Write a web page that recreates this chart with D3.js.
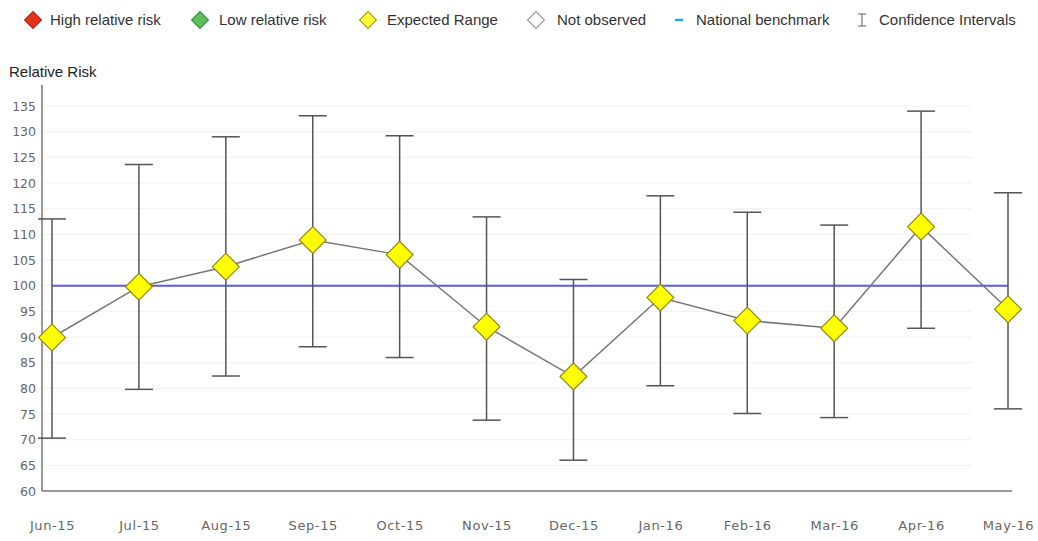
<!DOCTYPE html>
<html>
<head>
<meta charset="utf-8">
<script src="https://cdn.jsdelivr.net/npm/d3@7"></script>
<style>
  body { margin: 0; background: #fff; }
  svg { display: block; }
</style>
</head>
<body>
<svg width="1038" height="541"></svg>
<script>
// Data
const months = ['Jun-15', 'Jul-15', 'Aug-15', 'Sep-15', 'Oct-15', 'Nov-15',
  'Dec-15', 'Jan-16', 'Feb-16', 'Mar-16', 'Apr-16', 'May-16'];
const relRisk = [89.9, 99.8, 103.7, 108.9, 106.0, 92.0, 82.3, 97.7, 93.2, 91.7, 111.5, 95.4];
const ciUpper = [113.0, 123.6, 129.0, 133.1, 129.2, 113.4, 101.2, 117.5, 114.3, 111.8, 134.0, 118.1];
const ciLower = [70.3, 79.8, 82.4, 88.1, 86.0, 73.8, 66.0, 80.5, 75.1, 74.3, 91.7, 76.0];
const benchmark = 100;
const yTicks = [60, 65, 70, 75, 80, 85, 90, 95, 100, 105, 110, 115, 120, 125, 130, 135];

const legendItems = [
  { label: 'High relative risk', type: 'diamond', fill: '#e8321e', stroke: '#b02010', x: 33, tx: 50 },
  { label: 'Low relative risk', type: 'diamond', fill: '#5cbf5c', stroke: '#3c8f3c', x: 200, tx: 219 },
  { label: 'Expected Range', type: 'diamond', fill: '#ffff33', stroke: '#a8a020', x: 368, tx: 387 },
  { label: 'Not observed', type: 'diamond', fill: '#ffffff', stroke: '#999999', x: 536, tx: 557 },
  { label: 'National benchmark', type: 'dash', x: 679, tx: 696 },
  { label: 'Confidence Intervals', type: 'ci', x: 862, tx: 879 }
];

const svg = d3.select('svg');

// plot area
const plotLeft = 42, plotRight = 1012, plotTop = 85, plotBottom = 491;

const x = d3.scalePoint()
  .domain(months)
  .range([52, 1008]);

const y = d3.scaleLinear()
  .domain([60, 135])
  .range([plotBottom, 106]);

// faint gridlines
svg.append('g')
  .selectAll('line')
  .data(yTicks.slice(1))
  .join('line')
    .attr('x1', plotLeft).attr('x2', plotRight - 40)
    .attr('y1', d => y(d)).attr('y2', d => y(d))
    .attr('stroke', '#f1f1f1')
    .attr('stroke-width', 1);

// y axis labels
const yAxis = svg.append('g')
  .attr('transform', `translate(${plotLeft},0)`)
  .call(d3.axisLeft(y).tickValues(yTicks).tickSize(0).tickPadding(6));
yAxis.select('.domain').remove();
yAxis.selectAll('text')
  .attr('fill', '#666')
  .style('font-family', '"DejaVu Sans", Verdana, sans-serif')
  .style('font-size', '12.5px');

// x axis labels
const xAxis = svg.append('g')
  .attr('transform', `translate(0,${plotBottom})`)
  .call(d3.axisBottom(x).tickSize(0).tickPadding(30));
xAxis.select('.domain').remove();
xAxis.selectAll('text')
  .attr('fill', '#666')
  .style('font-family', '"DejaVu Sans", Verdana, sans-serif')
  .style('font-size', '13px')
  .style('letter-spacing', '0.6px');

// axis lines
svg.append('line')
  .attr('x1', plotLeft).attr('x2', plotLeft)
  .attr('y1', plotTop).attr('y2', plotBottom)
  .attr('stroke', '#777').attr('stroke-width', 1.5);
svg.append('line')
  .attr('x1', plotLeft).attr('x2', plotRight)
  .attr('y1', plotBottom).attr('y2', plotBottom)
  .attr('stroke', '#777').attr('stroke-width', 1.5);

// y title
svg.append('text')
  .attr('x', 9).attr('y', 77)
  .attr('fill', '#222')
  .style('font-family', '"Liberation Sans", Arial, sans-serif')
  .style('font-size', '15px')
  .text('Relative Risk');

// national benchmark
svg.append('line')
  .attr('x1', x(months[0])).attr('x2', x(months[months.length - 1]))
  .attr('y1', y(benchmark)).attr('y2', y(benchmark))
  .attr('stroke', '#5b5bdc').attr('stroke-width', 2);

// confidence intervals
const capW = 14;
const ci = svg.append('g')
  .attr('stroke', '#555')
  .attr('stroke-width', 1.5);
months.forEach((m, i) => {
  ci.append('line')
    .attr('x1', x(m)).attr('x2', x(m))
    .attr('y1', y(ciUpper[i])).attr('y2', y(ciLower[i]));
  ci.append('line')
    .attr('x1', x(m) - capW).attr('x2', x(m) + capW)
    .attr('y1', y(ciUpper[i])).attr('y2', y(ciUpper[i]));
  ci.append('line')
    .attr('x1', x(m) - capW).attr('x2', x(m) + capW)
    .attr('y1', y(ciLower[i])).attr('y2', y(ciLower[i]));
});

// connecting line
const line = d3.line()
  .x((d, i) => x(months[i]))
  .y(d => y(d));
svg.append('path')
  .attr('d', line(relRisk))
  .attr('fill', 'none')
  .attr('stroke', '#777')
  .attr('stroke-width', 1.5);

// diamonds
const diamond = d3.symbol().type(d3.symbolSquare).size(360);
svg.append('g')
  .selectAll('path')
  .data(relRisk)
  .join('path')
    .attr('d', diamond)
    .attr('transform', (d, i) => `translate(${x(months[i])},${y(d)}) rotate(45)`)
    .attr('fill', '#ffff00')
    .attr('stroke', '#8f8a10')
    .attr('stroke-width', 1.2);

// legend
const legend = svg.append('g').attr('transform', 'translate(0,20)');
const smallDiamond = d3.symbol().type(d3.symbolSquare).size(140);
legendItems.forEach(item => {
  if (item.type === 'diamond') {
    legend.append('path')
      .attr('d', smallDiamond)
      .attr('transform', `translate(${item.x},0) rotate(45)`)
      .attr('fill', item.fill)
      .attr('stroke', item.stroke)
      .attr('stroke-width', 1.2);
  } else if (item.type === 'dash') {
    legend.append('line')
      .attr('x1', item.x - 4).attr('x2', item.x + 4)
      .attr('y1', 0).attr('y2', 0)
      .attr('stroke', '#20b0c0').attr('stroke-width', 2.5);
  } else {
    const g = legend.append('g').attr('stroke', '#777').attr('stroke-width', 1.2);
    g.append('line').attr('x1', item.x).attr('x2', item.x).attr('y1', -6).attr('y2', 6);
    g.append('line').attr('x1', item.x - 4).attr('x2', item.x + 4).attr('y1', -6).attr('y2', -6);
    g.append('line').attr('x1', item.x - 4).attr('x2', item.x + 4).attr('y1', 6).attr('y2', 6);
  }
  legend.append('text')
    .attr('x', item.tx).attr('y', 5)
    .attr('fill', '#333')
    .style('font-family', '"Liberation Sans", Arial, sans-serif')
    .style('font-size', '15px')
    .text(item.label);
});
</script>
</body>
</html>
